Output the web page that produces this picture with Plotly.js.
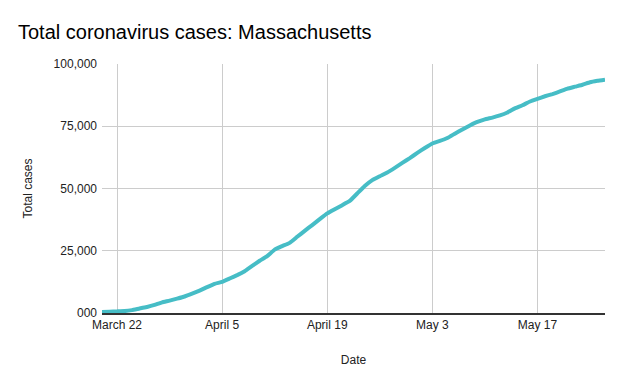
<!DOCTYPE html>
<html>
<head>
<meta charset="utf-8">
<script src="https://cdn.plot.ly/plotly-3.0.1.min.js"></script>
<style>html,body{margin:0;padding:0;background:#fff;}#chart{width:625px;height:386px;}</style>
</head>
<body>
<div id="chart"></div>
<script>
const dates = [
"2020-03-20","2020-03-21","2020-03-22","2020-03-23","2020-03-24","2020-03-25","2020-03-26","2020-03-27","2020-03-28","2020-03-29","2020-03-30","2020-03-31",
"2020-04-01","2020-04-02","2020-04-03","2020-04-04","2020-04-05","2020-04-06","2020-04-07","2020-04-08","2020-04-09","2020-04-10","2020-04-11","2020-04-12","2020-04-13","2020-04-14","2020-04-15","2020-04-16","2020-04-17","2020-04-18","2020-04-19","2020-04-20","2020-04-21","2020-04-22","2020-04-23","2020-04-24","2020-04-25","2020-04-26","2020-04-27","2020-04-28","2020-04-29","2020-04-30",
"2020-05-01","2020-05-02","2020-05-03","2020-05-04","2020-05-05","2020-05-06","2020-05-07","2020-05-08","2020-05-09","2020-05-10","2020-05-11","2020-05-12","2020-05-13","2020-05-14","2020-05-15","2020-05-16","2020-05-17","2020-05-18","2020-05-19","2020-05-20","2020-05-21","2020-05-22","2020-05-23","2020-05-24","2020-05-25","2020-05-26"
];
const totalCases = [
413,525,646,777,1159,1838,2417,3240,4257,4955,5752,6620,
7738,8966,10402,11736,12500,13837,15202,16790,18941,20974,22860,25475,26867,28163,30600,33000,35300,37700,40000,41700,43300,45000,48000,51000,53348,54938,56462,58302,60265,62205,
64311,66263,68087,69087,70271,72025,73721,75333,76743,77793,78462,79332,80497,82182,83421,84933,86010,87052,87925,88970,90084,90889,91662,92675,93271,93693
];
const xTickVals = ["2020-03-22","2020-04-05","2020-04-19","2020-05-03","2020-05-17"];
const xTickText = ["March 22","April 5","April 19","May 3","May 17"];
const yTickVals = [0,25000,50000,75000,100000];
const yTickText = ["000","25,000","50,000","75,000","100,000"];

const font = "Liberation Sans, Arial, sans-serif";
Plotly.newPlot("chart", [{
  x: dates, y: totalCases, type: "scatter", mode: "lines",
  line: {color: "#46BDC6", width: 4, shape: "spline", smoothing: 0.3},
  hoverinfo: "skip"
}], {
  width: 625, height: 386,
  margin: {l: 102, r: 20, t: 64, b: 73},
  paper_bgcolor: "#fff", plot_bgcolor: "#fff",
  showlegend: false,
  font: {family: font, size: 12, color: "#222"},
  title: {text: "Total coronavirus cases: Massachusetts", x: 0, xref: "container", xanchor: "left", y: 0.917, yanchor: "middle", pad: {l: 18},
          font: {family: font, size: 20, color: "#000"}},
  xaxis: {
    type: "date", range: ["2020-03-20", "2020-05-26"],
    tickvals: xTickVals, ticktext: xTickText,
    showgrid: true, gridcolor: "#cccccc", gridwidth: 1,
    showline: true, linecolor: "#333", linewidth: 1.5,
    zeroline: false, ticks: "", tickfont: {size: 12, color: "#222"},
    title: {text: "Date", font: {size: 12, color: "#222"}, standoff: 24}
  },
  yaxis: {
    range: [0, 100000], tickvals: yTickVals, ticktext: yTickText,
    showgrid: true, gridcolor: "#cccccc", gridwidth: 1,
    zeroline: false, showline: false, ticks: "", ticklabelstandoff: 4,
    tickfont: {size: 12, color: "#222"},
    title: {text: "Total cases", font: {size: 12, color: "#222"}, standoff: 18}
  }
}, {staticPlot: true});
</script>
</body>
</html>
